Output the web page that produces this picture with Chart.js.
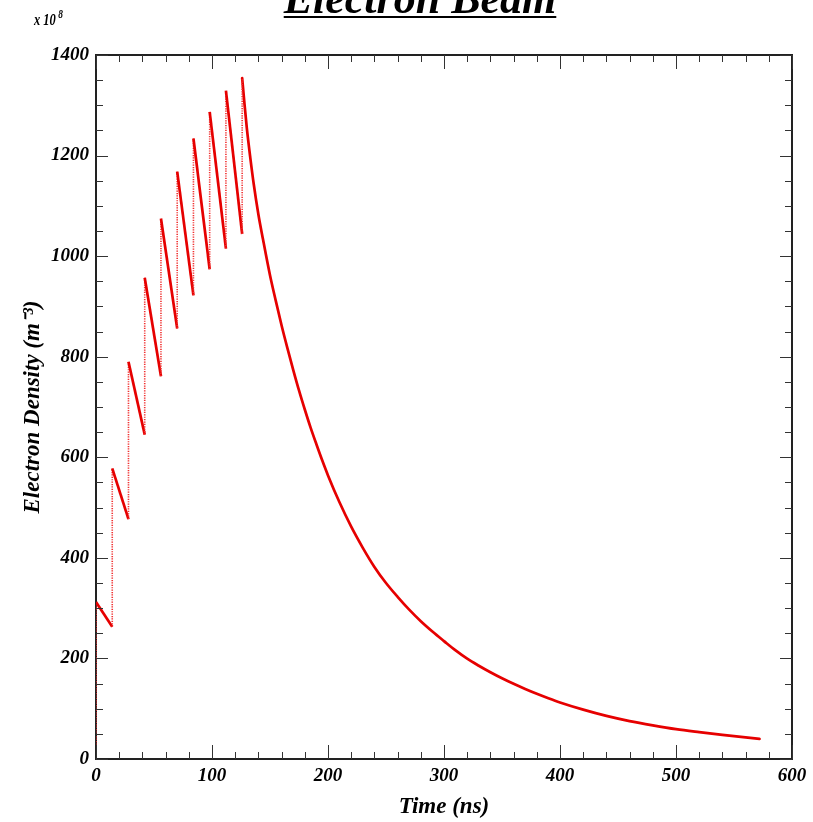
<!DOCTYPE html>
<html>
<head>
<meta charset="utf-8">
<title>Electron Beam</title>
<script src="https://cdn.jsdelivr.net/npm/chart.js@4.4.1/dist/chart.umd.min.js"></script>
<style>
  html, body { margin: 0; padding: 0; background: #fff; }
  #wrap { position: relative; width: 813px; height: 822px; overflow: hidden; }
  #plot { position: absolute; left: 0; top: 0; }
  .serif { font-family: "Liberation Serif", "Times New Roman", serif; font-weight: bold; font-style: italic; color: #000; }
  #title {
    position: absolute; left: 420px; top: -23px; transform: translateX(-50%);
    font-size: 44px; line-height: 44px; white-space: nowrap;
    text-decoration: underline; text-decoration-thickness: 2px; text-underline-offset: 3px;
  }
  #expo { position: absolute; left: 34px; top: 11px; font-size: 16px; line-height: 17px; white-space: nowrap;
          transform: scaleX(0.78); transform-origin: 0 0; }
  #expo .sup { font-size: 12px; position: relative; top: -7px; margin-left: 3px; }
</style>
</head>
<body>
<div id="wrap">
  <canvas id="plot" width="813" height="822"></canvas>
  <div id="title" class="serif">Electron Beam</div>
  <div id="expo" class="serif">x 10<span class="sup">8</span></div>
</div>
<script>
(function () {
  /* ── data (density in units of 1e8 m^-3, time in ns) ── */
  var pulseTimes   = [0, 14, 28, 42, 56, 70, 84, 98, 112, 126];
  var pulsePeaks   = [312, 578, 790, 957, 1075, 1168, 1234, 1287, 1329, 1354];
  // value reached just before the next pulse fires
  var pulseTroughs = [263, 477, 645, 761, 856, 922, 974, 1015, 1044];

  // free decay after the last pulse
  var decayTimes  = [126, 128, 130, 133, 136, 140, 144, 150, 155, 160, 165, 170, 175, 180, 185, 190, 195,
                     200, 210, 220, 230, 240, 250, 260, 270, 280, 290, 300, 310, 320, 330, 340, 350,
                     360, 370, 380, 390, 400, 420, 440, 460, 480, 500, 520, 540, 560, 572];
  var decayValues = [1354, 1303, 1255, 1196, 1143, 1083, 1033, 962, 911, 862, 817, 774, 733, 695, 659, 626, 594,
                     564, 510, 462, 420, 382, 350, 322.5, 297, 274, 253.5, 234.5, 216, 199.5, 185.5, 172.5, 160.5,
                     149.5, 139.3, 129.7, 120.8, 112.5, 98.2, 85.7, 75.4, 66.9, 59.3, 53.3, 47.8, 42.9, 40.2];

  var xTicks = [0, 100, 200, 300, 400, 500, 600];
  var yTicks = [0, 200, 400, 600, 800, 1000, 1200, 1400];

  /* ── build the sawtooth polyline ── */
  var saw = [{ x: 0, y: 0 }];
  pulseTimes.forEach(function (t, i) {
    saw.push({ x: t, y: pulsePeaks[i] });
    if (i < pulseTroughs.length) saw.push({ x: pulseTimes[i + 1], y: pulseTroughs[i] });
  });
  var decay = decayTimes.map(function (t, i) { return { x: t, y: decayValues[i] }; });

  var RED = '#e60000';
  var FONT = '"Liberation Serif", "Times New Roman", serif';
  var isRise = function (ctx) { return ctx.p1.parsed.y > ctx.p0.parsed.y; };

  /* ── frame + inward ticks on all four sides ── */
  var framePlugin = {
    id: 'paw-frame',
    beforeDatasetsDraw: function (chart) {
      var c = chart.ctx, a = chart.chartArea;
      c.save();
      c.lineWidth = 2;
      c.strokeStyle = '#222';
      c.strokeRect(a.left, a.top, a.right - a.left, a.bottom - a.top);
      c.restore();
    },
    afterDraw: function (chart) {
      var c = chart.ctx, a = chart.chartArea, sx = chart.scales.x, sy = chart.scales.y;
      c.save();
      c.lineWidth = 1;
      c.strokeStyle = '#333';
      c.beginPath();
      for (var v = 0; v <= 600; v += 20) {
        var px = Math.round(sx.getPixelForValue(v)) + 0.5;
        var len = (v % 100 === 0) ? 14 : 7;
        c.moveTo(px, a.bottom); c.lineTo(px, a.bottom - len);
        c.moveTo(px, a.top);    c.lineTo(px, a.top + len);
      }
      for (var w = 0; w <= 1400; w += 50) {
        var py = Math.round(sy.getPixelForValue(w)) + 0.5;
        var ln = (w % 200 === 0) ? 12 : 7;
        c.moveTo(a.left, py);  c.lineTo(a.left + ln, py);
        c.moveTo(a.right, py); c.lineTo(a.right - ln, py);
      }
      c.stroke();
      c.restore();
    }
  };

  var tickFont  = { family: FONT, size: 19, style: 'italic', weight: 'bold' };
  var plainNum  = function (v) { return String(v); };

  new Chart(document.getElementById('plot'), {
    type: 'line',
    data: {
      datasets: [{
        data: saw,
        borderColor: RED,
        borderWidth: 2.7,
        pointRadius: 0,
        tension: 0,
        borderJoinStyle: 'round',
        segment: {
          // vertical jumps at each pulse come out thin and dotted
          borderWidth: function (ctx) { return isRise(ctx) ? 1.6 : undefined; },
          borderDash:  function (ctx) { return isRise(ctx) ? [1.2, 1.2] : undefined; },
          borderColor: function (ctx) { return isRise(ctx) ? '#f03030' : undefined; }
        }
      }, {
        data: decay,
        borderColor: RED,
        borderWidth: 2.7,
        pointRadius: 0,
        cubicInterpolationMode: 'monotone',
        borderCapStyle: 'round'
      }]
    },
    plugins: [framePlugin],
    options: {
      responsive: false,
      animation: false,
      layout: { padding: { top: 55, right: 21, left: 0, bottom: 0 } },
      plugins: { legend: { display: false }, tooltip: { enabled: false } },
      scales: {
        x: {
          type: 'linear', min: 0, max: 600,
          afterBuildTicks: function (s) { s.ticks = xTicks.map(function (v) { return { value: v }; }); },
          afterFit: function (s) { s.height = 63; },
          grid: { display: false, drawTicks: false },
          border: { display: false },
          ticks: { color: '#000', padding: 6, maxRotation: 0, font: tickFont, callback: plainNum },
          title: { display: true, text: 'Time (ns)', color: '#000', padding: { top: 0, bottom: 1 },
                   font: { family: FONT, size: 23, style: 'italic', weight: 'bold' } }
        },
        y: {
          type: 'linear', min: 0, max: 1400,
          afterBuildTicks: function (s) { s.ticks = yTicks.map(function (v) { return { value: v }; }); },
          afterFit: function (s) { s.width = 96; },
          grid: { display: false, drawTicks: false },
          border: { display: false },
          ticks: { color: '#000', padding: 7, font: tickFont, callback: plainNum },
          title: { display: true, text: 'Electron Density (m\u207B\u00B3)', color: '#000', padding: { top: 19, bottom: 0 },
                   font: { family: FONT, size: 23, style: 'italic', weight: 'bold' } }
        }
      }
    }
  });
})();
</script>
</body>
</html>
